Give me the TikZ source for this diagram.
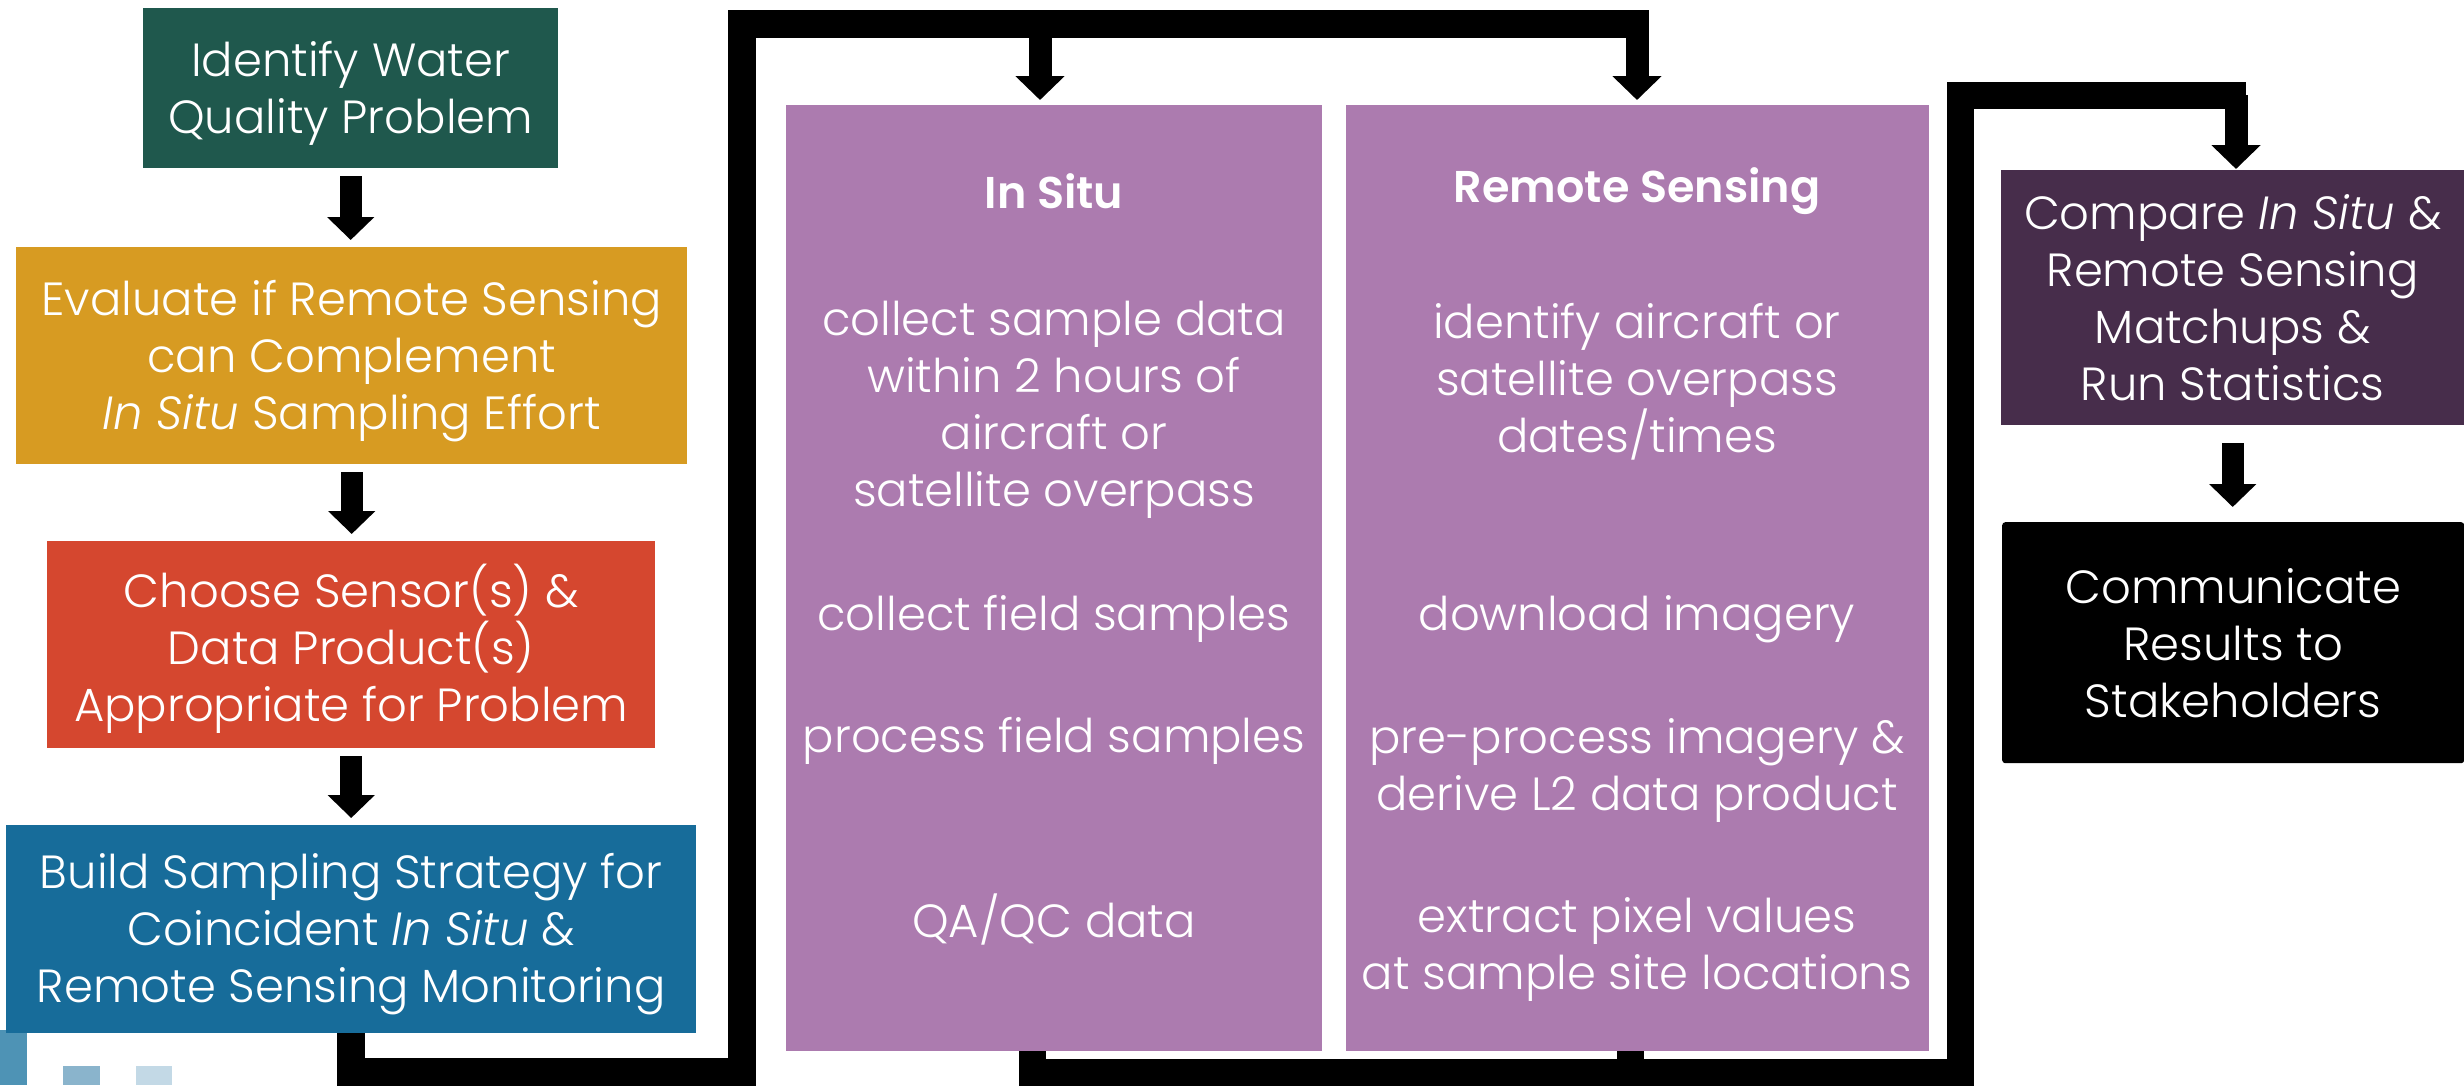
\documentclass[tikz,border=0pt]{standalone}
\usepackage{fontspec}
\setmainfont{Poppins}[UprightFont=* Light, ItalicFont=* Light Italic, BoldFont=* SemiBold]
\usetikzlibrary{arrows.meta}

\definecolor{stepgreen}{HTML}{1F584D}
\definecolor{stepgold}{HTML}{D79B22}
\definecolor{stepred}{HTML}{D5472F}
\definecolor{stepblue}{HTML}{176C9A}
\definecolor{colpurple}{HTML}{AC7BAF}
\definecolor{steppurple}{HTML}{472D4B}
\definecolor{tileA}{HTML}{4E93B5}
\definecolor{tileB}{HTML}{8AB4CC}
\definecolor{tileC}{HTML}{C3D9E6}

\tikzset{
  stepbox/.style={rectangle, anchor=north west, inner sep=0pt},
  steptext/.style={text=white, align=center, inner sep=0pt,
    font=\fontsize{46.5}{57}\selectfont},
  coltext/.style={text=white, align=center, inner sep=0pt,
    font=\fontsize{46.5}{57}\selectfont},
  colhead/.style={text=white, align=center, inner sep=0pt,
    font=\fontsize{44.5}{57}\selectfont\bfseries},
  flowarrow/.style={line width=22pt, -{Triangle[width=46pt,length=23pt]},
    shorten <=8pt, shorten >=7pt},
  conn/.style={line width=28pt, line join=miter, line cap=butt},
  colarrow/.style={line width=23pt, -{Triangle[width=48pt,length=24pt]}},
}

\begin{document}
\begin{tikzpicture}[x=1pt,y=-1pt]
\useasboundingbox (0,0) rectangle (2464,1085);

% decorative tiles, bottom left
\fill[tileA] (0,1030) rectangle (27,1085);
\fill[tileB] (63,1066) rectangle (100,1085);
\fill[tileC] (136,1066) rectangle (172,1085);

% planning column
\node[stepbox, fill=stepgreen, minimum width=415pt, minimum height=160pt]
  (ident) at (143,8) {};
\node[steptext] (identtxt) at ([yshift=-5pt]ident.center) {Identify Water\\Quality Problem};
\node[stepbox, fill=stepgold, minimum width=671pt, minimum height=217pt]
  (evalb) at (16,247) {};
\node[steptext] (evalbtxt) at ([yshift=-5pt]evalb.center) {Evaluate if Remote Sensing\\can Complement\\\textit{In Situ} Sampling Effort};
\node[stepbox, fill=stepred, minimum width=608pt, minimum height=207pt]
  (choose) at (47,541) {};
\node[steptext] (choosetxt) at ([yshift=-4pt]choose.center) {Choose Sensor(s) \&\\Data Product(s)\\Appropriate for Problem};
\node[stepbox, fill=stepblue, minimum width=690pt, minimum height=208pt]
  (build) at (6,825) {};
\node[steptext] (buildtxt) at ([yshift=-5pt]build.center) {Build Sampling Strategy for\\Coincident \textit{In Situ} \&\\Remote Sensing Monitoring};

\draw[flowarrow] (ident.south) -- (ident.south |- evalb.north);
\draw[flowarrow] (evalb.south) -- (evalb.south |- choose.north);
\draw[flowarrow] (choose.south) -- (choose.south |- build.north);

% data collection columns
\node[stepbox, fill=colpurple, minimum width=536pt, minimum height=946pt]
  (insitu) at (786,105) {};
\node[stepbox, fill=colpurple, minimum width=583pt, minimum height=946pt]
  (remote) at (1346,105) {};

\node[colhead] (ishead) at (1054,191) {In Situ};
\node[coltext] (is1) at (1054,410) {collect sample data\\within 2 hours of\\aircraft or\\satellite overpass};
\node[coltext] (is2) at (1054,619) {collect field samples};
\node[coltext] (is3) at (1054,741) {process field samples};
\node[coltext] (is4) at (1054,919) {QA/QC data};

\node[colhead] (rshead) at (1637,191) {Remote Sensing};
\node[coltext] (rs1) at (1637,382) {identify aircraft or\\satellite overpass\\dates/times};
\node[coltext] (rs2) at (1637,619) {download imagery};
\node[coltext] (rs3) at (1637,770) {pre-process imagery \&\\derive L2 data product};
\node[coltext] (rs4) at (1637,949) {extract pixel values\\at sample site locations};

% analysis column
\node[stepbox, fill=steppurple, minimum width=463pt, minimum height=255pt]
  (compare) at (2001,170) {};
\node[steptext] (comparetxt) at (compare.center) {Compare \textit{In Situ} \&\\Remote Sensing\\Matchups \&\\Run Statistics};
\node[stepbox, fill=black, minimum width=462pt, minimum height=241pt,
  rounded corners=3pt] (commun) at (2002,522) {};
\node[steptext] (communtxt) at (commun.center) {Communicate\\Results to\\Stakeholders};

\draw[flowarrow, shorten <=18pt, shorten >=15pt] (compare.south) -- (compare.south |- commun.north);

% routing from the strategy box to both columns
\coordinate (lowR) at (742,1072);
\coordinate (topL) at (742,24);
\coordinate (topR) at (1649,24);
\draw[conn] (build.south) |- (lowR) -- (topL) -- (topR);
\coordinate (dropA) at (1040,24);
\coordinate (dropB) at (1637,24);
\draw[colarrow, shorten >=5pt] (dropA) -- (dropA |- insitu.north);
\draw[colarrow, shorten >=5pt] (dropB) -- (dropB |- remote.north);

% routing from both columns to the comparison step
\coordinate (botL) at (1032,1072);
\coordinate (botM) at (1630,1072);
\coordinate (botR) at (1960,1072);
\coordinate (upR) at (1960,95);
\coordinate (feedR) at (2246,95);
\draw[conn, line width=27pt] (botL |- insitu.south) -- (botL) -- (botR) -- (upR) -- (feedR);
\draw[conn, line width=27pt] (botM |- remote.south) -- (botM);
\coordinate (dropC) at (2236,95);
\draw[colarrow, shorten >=1pt] (dropC) -- (dropC |- compare.north);
\end{tikzpicture}
\end{document}
